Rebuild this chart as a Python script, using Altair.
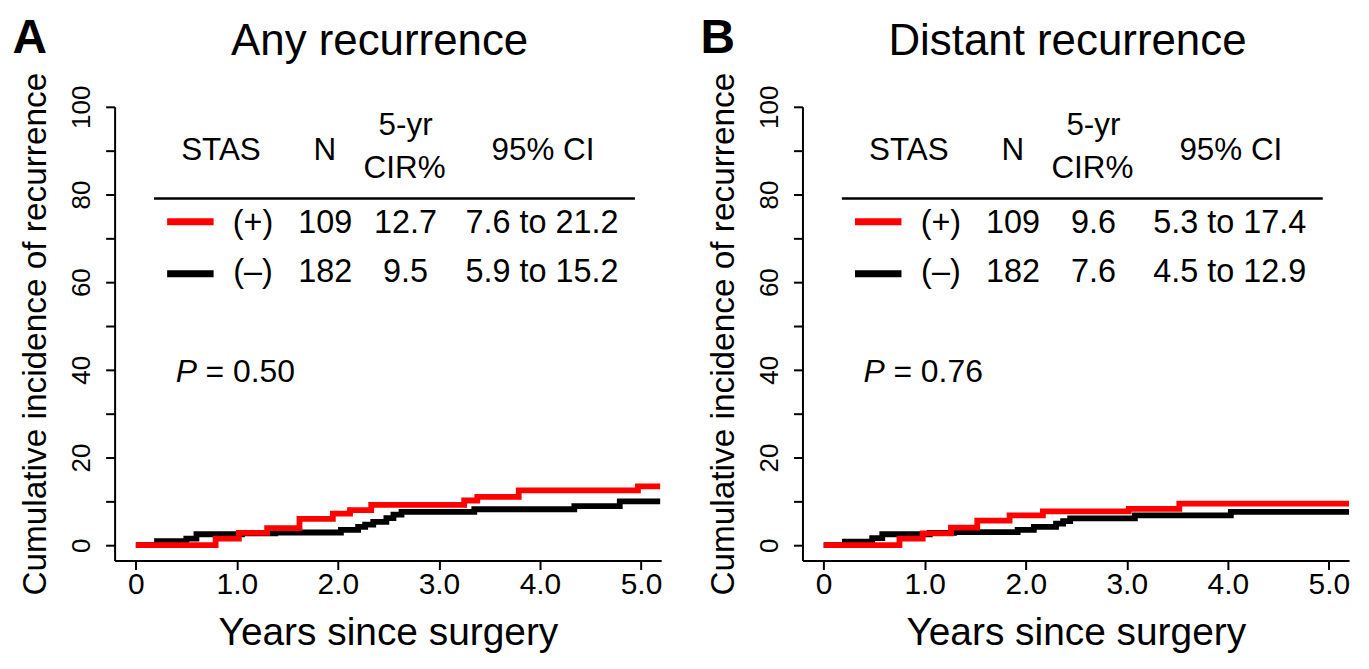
import altair as alt
import pandas as pd

FONT = "Liberation Sans"

# ---------------- data ----------------
# Panel A: Any recurrence
years_pos_a = [0, 0.79, 1.02, 1.30, 1.62, 1.95, 2.12, 2.33, 3.25, 3.38, 3.79, 4.97, 5.19]
cir_pos_a = [0, 1.5, 2.8, 3.9, 6.0, 7.2, 8.0, 9.2, 10.2, 11.0, 12.5, 13.4, 13.4]
years_neg_a = [0, 0.21, 0.50, 0.60, 1.05, 1.38, 2.03, 2.20, 2.27, 2.35, 2.48, 2.55, 2.63, 3.35, 4.34, 4.79, 5.19]
cir_neg_a = [0, 0.9, 1.5, 2.5, 2.7, 2.9, 3.5, 4.2, 4.7, 5.3, 6.2, 7.0, 7.6, 8.2, 8.9, 10.0, 10.0]

# Panel B: Distant recurrence
years_pos_b = [0, 0.75, 0.98, 1.26, 1.52, 1.84, 2.17, 3.02, 3.52, 5.2]
cir_pos_b = [0, 1.5, 2.7, 4.0, 5.6, 6.8, 7.7, 8.3, 9.5, 9.5]
years_neg_b = [0, 0.21, 0.48, 0.58, 1.05, 1.29, 1.92, 2.08, 2.30, 2.37, 2.44, 3.08, 4.03, 5.2]
cir_neg_b = [0, 0.8, 1.6, 2.5, 2.8, 3.0, 3.5, 4.2, 4.9, 5.5, 6.1, 6.8, 7.6, 7.6]

# table contents
header_labels = ["STAS", "N", "5-yr", "CIR%", "95% CI"]
group_labels = ["(+)", "(\u2013)"]
n_values = ["109", "182"]
cir5_a = ["12.7", "9.5"]
ci_a = ["7.6 to 21.2", "5.9 to 15.2"]
cir5_b = ["9.6", "7.6"]
ci_b = ["5.3 to 17.4", "4.5 to 12.9"]
p_a = "0.50"
p_b = "0.76"
panel_letters = ["A", "B"]
panel_titles = ["Any recurrence", "Distant recurrence"]

xs = alt.Scale(domain=[-0.21, 5.2], nice=False, zero=False)
ys = alt.Scale(domain=[-3.5, 100], nice=False, zero=False)
W, H = 548.6, 455.4

X_AXIS = alt.Axis(
    values=[0, 1, 2, 3, 4, 5],
    labelExpr="datum.value == 0 ? '0' : format(datum.value, '.1f')",
    title="Years since surgery",
    grid=False, domainColor="black", domainWidth=2, tickColor="black",
    tickWidth=2, tickSize=9, labelFont=FONT, labelFontSize=30,
    labelColor="black", labelPadding=0, titleFont=FONT, titleFontSize=39,
    titleFontWeight="normal", titleColor="black", titlePadding=14,
)
Y_AXIS = alt.Axis(
    values=list(range(0, 101, 10)),
    labelExpr="datum.value % 20 == 0 ? datum.label : ''",
    title="Cumulative incidence of recurrence",
    grid=False, domainColor="black", domainWidth=2, tickColor="black",
    tickWidth=2, tickSize=9, labelFont=FONT, labelFontSize=26,
    labelColor="black", labelAngle=270, labelPadding=11,
    titleFont=FONT, titleFontSize=33.5, titleFontWeight="normal",
    titleColor="black", titlePadding=16,
)


def xq(field):
    return alt.X(field, type="quantitative", scale=xs, axis=X_AXIS)


def yq(field):
    return alt.Y(field, type="quantitative", scale=ys, axis=Y_AXIS)


def panel(letter, title, pt, pv, nt, nv, cir5, ci, pval):
    neg = pd.DataFrame({"t": nt, "v": nv})
    pos = pd.DataFrame({"t": pt, "v": pv})
    neg_line = alt.Chart(neg).mark_line(
        interpolate="step-after", strokeWidth=5.8, color="black", strokeCap="butt"
    ).encode(x=xq("t"), y=yq("v"))
    pos_line = alt.Chart(pos).mark_line(
        interpolate="step-after", strokeWidth=5.8, color="#ff0000", strokeCap="butt"
    ).encode(x=xq("t"), y=yq("v"))

    head = pd.DataFrame({
        "x": [0.843, 1.871, 2.67, 2.66, 4.03],
        "y": [90.0, 90.0, 95.6, 85.7, 90.0],
        "label": header_labels,
    })
    head_txt = alt.Chart(head).mark_text(
        font=FONT, fontSize=31.5, color="black", align="center", baseline="middle"
    ).encode(x=xq("x"), y=yq("y"), text="label:N")

    rule_df = pd.DataFrame({"x": [0.18], "x2": [4.94], "y": [79.1]})
    rule = alt.Chart(rule_df).mark_rule(color="black", strokeWidth=2.5).encode(
        x=xq("x"), x2="x2", y=yq("y"))

    swatch_df = pd.DataFrame({"x": [0.31, 0.31], "x2": [0.77, 0.77],
                              "y": [73.8, 61.9], "c": ["#ff0000", "black"]})
    swatch = alt.Chart(swatch_df).mark_rule(strokeWidth=7).encode(
        x=xq("x"), x2="x2", y=yq("y"), color=alt.Color("c:N", scale=None))

    rows = pd.DataFrame({
        "x": [1.16, 1.874, 2.67, 4.02] * 2,
        "y": [73.4] * 4 + [62.2] * 4,
        "label": [group_labels[0], n_values[0], cir5[0], ci[0],
                  group_labels[1], n_values[1], cir5[1], ci[1]],
    })
    rows_txt = alt.Chart(rows).mark_text(
        font=FONT, fontSize=32.5, color="black", align="center", baseline="middle"
    ).encode(x=xq("x"), y=yq("y"), text="label:N")

    p_df = pd.DataFrame({"x": [0.394], "y": [39.5], "label": ["P"]})
    p_txt = alt.Chart(p_df).mark_text(
        font=FONT, fontSize=32, fontStyle="italic", color="black",
        align="left", baseline="middle"
    ).encode(x=xq("x"), y=yq("y"), text="label:N")
    pv_df = pd.DataFrame({"x": [0.69], "y": [39.5], "label": ["= " + pval]})
    pv_txt = alt.Chart(pv_df).mark_text(
        font=FONT, fontSize=32, color="black", align="left", baseline="middle"
    ).encode(x=xq("x"), y=yq("y"), text="label:N")

    title_df = pd.DataFrame({"x": [2.413], "y": [114.8], "label": [title]})
    title_txt = alt.Chart(title_df).mark_text(
        font=FONT, fontSize=44, color="black", align="center", baseline="middle"
    ).encode(x=xq("x"), y=yq("y"), text="label:N")

    letter_df = pd.DataFrame({"x": [-1.22], "y": [115.47], "label": [letter]})
    letter_txt = alt.Chart(letter_df).mark_text(
        font=FONT, fontSize=48, fontWeight="bold", color="black",
        align="left", baseline="middle"
    ).encode(x=xq("x"), y=yq("y"), text="label:N")

    return alt.layer(
        neg_line, pos_line, head_txt, rule, swatch, rows_txt, p_txt, pv_txt,
        title_txt, letter_txt,
    ).properties(width=W, height=H)


pa = panel(panel_letters[0], panel_titles[0], years_pos_a, cir_pos_a,
           years_neg_a, cir_neg_a, cir5_a, ci_a, p_a)
pb = panel(panel_letters[1], panel_titles[1], years_pos_b, cir_pos_b,
           years_neg_b, cir_neg_b, cir5_b, ci_b, p_b)

chart = alt.hconcat(pa, pb, spacing=141.4, bounds="flush").properties(
    padding={"left": 4, "top": 5, "right": 0, "bottom": 0}
).configure(background="white").configure_view(stroke=None)

chart.save("out.html", embed_options={"renderer": "svg", "actions": False})
